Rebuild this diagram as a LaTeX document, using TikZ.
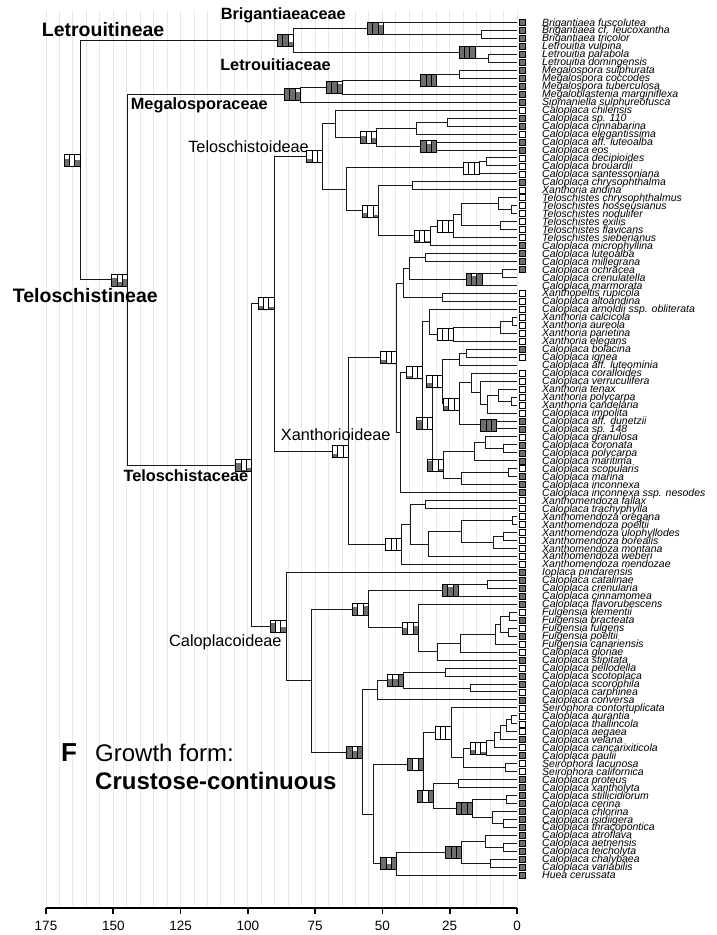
\documentclass[tikz,border=0pt]{standalone}
\usepackage{fontspec}
\setmainfont{Liberation Sans}
\usetikzlibrary{calc}
\definecolor{boxgray}{RGB}{110,110,110}
\definecolor{gridgray}{RGB}{232,232,232}
\tikzset{
  branch/.style={line width=1pt, black!90},
  boxline/.style={line width=0.8pt, black},
  gridline/.style={line width=1pt, gridgray},
  tipsq/.style={line width=0.7pt, black},
  tiplabel/.style={anchor=base west, inner sep=0pt, font=\fontsize{10.5}{10}\selectfont\itshape},
  bigclade/.style={inner sep=0pt, font=\fontsize{19.5}{20}\selectfont\bfseries},
  famclade/.style={inner sep=0pt, font=\fontsize{16.3}{17}\selectfont\bfseries},
  subclade/.style={inner sep=0pt, font=\fontsize{16.3}{17}\selectfont},
  axisline/.style={line width=1.8pt, black},
  axislab/.style={inner sep=0pt, font=\fontsize{13.5}{14}\selectfont},
}
\newcommand\nbx[4]{%
  \fill[white] ($(#1)+(-16,-6)$) rectangle ($(#1)+(0,6)$);
  \fill[boxgray] ($(#1)+(-16,{6-12*#2})$) rectangle ($(#1)+(-10.667,6)$);
  \fill[boxgray] ($(#1)+(-10.667,{6-12*#3})$) rectangle ($(#1)+(-5.333,6)$);
  \fill[boxgray] ($(#1)+(-5.333,{6-12*#4})$) rectangle ($(#1)+(0,6)$);
  \draw[boxline] ($(#1)+(-16,-6)$) rectangle ($(#1)+(0,6)$);
  \draw[boxline] ($(#1)+(-10.667,-6)$) -- ($(#1)+(-10.667,6)$);
  \draw[boxline] ($(#1)+(-5.333,-6)$) -- ($(#1)+(-5.333,6)$);
}
\begin{document}
\begin{tikzpicture}[x=1pt,y=-1pt]
\useasboundingbox (0,0) rectangle (716,935);
% grid
\foreach \k in {0,...,35} {\draw[gridline] ({517-13.457*\k},10) -- ({517-13.457*\k},906);}
% tips
\foreach \i/\s/\n in {
1/f/Brigantiaea fuscolutea,
2/f/Brigantiaea cf. leucoxantha,
3/f/Brigantiaea tricolor,
4/f/Letrouitia vulpina,
5/f/Letrouitia parabola,
6/f/Letrouitia domingensis,
7/f/Megalospora sulphurata,
8/f/Megalospora coccodes,
9/f/Megalospora tuberculosa,
10/f/Megaloblastenia marginiflexa,
11/f/Sipmaniella sulphureofusca,
12/o/Caloplaca chilensis,
13/f/Caloplaca sp. 110,
14/f/Caloplaca cinnabarina,
15/o/Caloplaca elegantissima,
16/f/Caloplaca aff. luteoalba,
17/f/Caloplaca eos,
18/o/Caloplaca decipioides,
19/o/Caloplaca brouardii,
20/o/Caloplaca santessoniana,
21/f/Caloplaca chrysophthalma,
22/o/Xanthoria andina,
23/o/Teloschistes chrysophthalmus,
24/o/Teloschistes hosseusianus,
25/o/Teloschistes nodulifer,
26/o/Teloschistes exilis,
27/o/Teloschistes flavicans,
28/o/Teloschistes sieberianus,
29/f/Caloplaca microphyllina,
30/f/Caloplaca luteoalba,
31/f/Caloplaca millegrana,
32/f/Caloplaca ochracea,
33/n/Caloplaca crenulatella,
34/n/Caloplaca marmorata,
35/o/Xanthopeltis rupicola,
36/o/Caloplaca altoandina,
37/o/Caloplaca arnoldii ssp. obliterata,
38/o/Xanthoria calcicola,
39/o/Xanthoria aureola,
40/o/Xanthoria parietina,
41/o/Xanthoria elegans,
42/f/Caloplaca bolacina,
43/o/Caloplaca ignea,
44/n/Caloplaca aff. luteominia,
45/o/Caloplaca coralloides,
46/o/Caloplaca verruculifera,
47/o/Xanthoria tenax,
48/o/Xanthoria polycarpa,
49/o/Xanthoria candelaria,
50/o/Caloplaca impolita,
51/f/Caloplaca aff. dunetzii,
52/f/Caloplaca sp. 148,
53/o/Caloplaca granulosa,
54/f/Caloplaca coronata,
55/f/Caloplaca polycarpa,
56/f/Caloplaca maritima,
57/o/Caloplaca scopularis,
58/f/Caloplaca marina,
59/f/Caloplaca inconnexa,
60/f/Caloplaca inconnexa ssp. nesodes,
61/o/Xanthomendoza fallax,
62/o/Caloplaca trachyphylla,
63/o/Xanthomendoza oregana,
64/o/Xanthomendoza poeltii,
65/o/Xanthomendoza ulophyllodes,
66/o/Xanthomendoza borealis,
67/o/Xanthomendoza montana,
68/o/Xanthomendoza weberi,
69/o/Xanthomendoza mendozae,
70/f/Ioplaca pindarensis,
71/f/Caloplaca catalinae,
72/f/Caloplaca crenularia,
73/f/Caloplaca cinnamomea,
74/f/Caloplaca flavorubescens,
75/o/Fulgensia klementii,
76/f/Fulgensia bracteata,
77/o/Fulgensia fulgens,
78/f/Fulgensia poeltii,
79/o/Fulgensia canariensis,
80/o/Caloplaca gloriae,
81/f/Caloplaca stipitata,
82/o/Caloplaca pellodella,
83/f/Caloplaca scotoplaca,
84/f/Caloplaca scorophila,
85/o/Caloplaca carphinea,
86/f/Caloplaca conversa,
87/o/Seirophora contortuplicata,
88/o/Caloplaca aurantia,
89/o/Caloplaca thallincola,
90/o/Caloplaca aegaea,
91/f/Caloplaca velana,
92/o/Caloplaca cancarixiticola,
93/f/Caloplaca paulii,
94/o/Seirophora lacunosa,
95/o/Seirophora californica,
96/f/Caloplaca proteus,
97/f/Caloplaca xantholyta,
98/f/Caloplaca stillicidiorum,
99/f/Caloplaca cerina,
100/f/Caloplaca chlorina,
101/f/Caloplaca isidiigera,
102/f/Caloplaca thracopontica,
103/f/Caloplaca atroflava,
104/f/Caloplaca aetnensis,
105/f/Caloplaca teicholyta,
106/f/Caloplaca chalybaea,
107/f/Caloplaca variabilis,
108/f/Huea cerussata}{
  \coordinate (t\i) at (517,{22.5+7.97*(\i-1)});
  \node[tiplabel] (lab\i) at ($(t\i)+(25,3.5)$) {\n};
  \if\s f \draw[tipsq,fill=boxgray] ($(t\i)+(2,-3)$) rectangle ($(t\i)+(8,3)$);\fi
  \if\s o \draw[tipsq,fill=white] ($(t\i)+(2,-3)$) rectangle ($(t\i)+(8,3)$);\fi
}
% internal nodes
\coordinate (root) at (80,160.2);
\coordinate (letN) at (293.3,40.43);
\coordinate (brig) at (383.3,28.48);
\coordinate (brB23) at (481.7,34.46);
\coordinate (letr) at (475,52.39);
\coordinate (le56) at (488.3,58.37);
\coordinate (telN) at (127.7,279.96);
\coordinate (megN) at (300.5,94.73);
\coordinate (me10) at (342.5,87.26);
\coordinate (me789) at (436.7,80.28);
\coordinate (me78) at (459.3,74.31);
\coordinate (telfam) at (251.7,465.19);
\coordinate (tx) at (274,303.84);
\coordinate (telo) at (322.7,156.53);
\coordinate (cA) at (335,123.62);
\coordinate (cB) at (376.7,137.07);
\coordinate (cC) at (416,128.1);
\coordinate (c1314) at (447.3,122.13);
\coordinate (cD) at (436.7,146.04);
\coordinate (cH) at (346,189.44);
\coordinate (cG) at (479.3,167.95);
\coordinate (g1819) at (486.7,161.98);
\coordinate (cI) at (378.3,210.92);
\coordinate (i2122) at (412.7,185.89);
\coordinate (cJ) at (430,235.95);
\coordinate (cK) at (453.3,226.24);
\coordinate (cL) at (461.7,214.78);
\coordinate (cM) at (498.3,203.82);
\coordinate (m2425) at (511.7,209.8);
\coordinate (l2627) at (500,225.74);
\coordinate (xanth) at (348.3,451.15);
\coordinate (xQ) at (396.7,357.87);
\coordinate (xP) at (403.3,283.03);
\coordinate (xO) at (409.3,268.58);
\coordinate (x3031) at (425,257.62);
\coordinate (xN) at (482,279.54);
\coordinate (x3233) at (502.7,273.56);
\coordinate (x3536) at (442.3,297.47);
\coordinate (xV) at (400.7,432.7);
\coordinate (xU) at (422.7,372.68);
\coordinate (xS) at (429.3,321.88);
\coordinate (xR) at (453.3,334.33);
\coordinate (x3840) at (500,327.36);
\coordinate (x3839) at (512.7,321.38);
\coordinate (xW) at (432.7,423.47);
\coordinate (xX1) at (442.7,381.6);
\coordinate (x44) at (459.3,359.24);
\coordinate (x4243) at (466.7,353.26);
\coordinate (xX2) at (459.3,403.95);
\coordinate (x45) at (471.7,382.9);
\coordinate (x46) at (480,392.61);
\coordinate (x50) at (487.3,404.07);
\coordinate (x47) at (498.3,395.1);
\coordinate (x4849) at (511.7,401.08);
\coordinate (x5152) at (496.7,424.99);
\coordinate (xX4) at (443.3,465.34);
\coordinate (xY1) at (474,451.89);
\coordinate (x53) at (485,442.92);
\coordinate (x5455) at (503.3,448.9);
\coordinate (xY2) at (461.7,478.79);
\coordinate (x5758) at (508.3,472.81);
\coordinate (xAA) at (401.7,544.42);
\coordinate (x6168) at (410.7,524.37);
\coordinate (x6162) at (425,504.69);
\coordinate (x68) at (428.3,544.04);
\coordinate (x6367) at (461.7,531.59);
\coordinate (x6364) at (512.7,520.63);
\coordinate (x67) at (493.3,542.55);
\coordinate (x6566) at (503.3,536.57);
\coordinate (calo) at (286,626.53);
\coordinate (kBB) at (311.7,680.63);
\coordinate (kCC) at (368.3,609.17);
\coordinate (kDD) at (458.3,590.37);
\coordinate (k7172) at (487.3,584.39);
\coordinate (kEE) at (418.3,627.97);
\coordinate (k81) at (437.3,651.63);
\coordinate (k80) at (460.7,643.17);
\coordinate (k79) at (495,634.2);
\coordinate (k7578) at (500,624.24);
\coordinate (k7576) at (509.3,616.27);
\coordinate (k7778) at (508.3,632.21);
\coordinate (kFF) at (362.7,752.08);
\coordinate (kHH) at (377.3,689.99);
\coordinate (kGG) at (403.3,680.03);
\coordinate (k8283) at (445.7,672.06);
\coordinate (k8485) at (470.7,688);
\coordinate (k373) at (373.3,814.17);
\coordinate (kII) at (423.3,764.5);
\coordinate (kJJ) at (451,732.89);
\coordinate (kLL) at (463,757.86);
\coordinate (kKK) at (486,748.02);
\coordinate (k92) at (494,740.3);
\coordinate (k91) at (500,732.83);
\coordinate (k90) at (506.7,725.86);
\coordinate (k8889) at (511.7,719.88);
\coordinate (k9495) at (505,767.7);
\coordinate (kMM) at (433.3,796.1);
\coordinate (k9697) at (458.3,783.64);
\coordinate (kNN) at (472.3,808.55);
\coordinate (k9899) at (506.7,799.58);
\coordinate (k100) at (492.3,817.51);
\coordinate (k101102) at (503.3,823.49);
\coordinate (kPP) at (396.7,863.84);
\coordinate (kOO) at (461.7,852.38);
\coordinate (k103) at (485,841.42);
\coordinate (k104105) at (503.3,847.4);
\coordinate (k106107) at (490,863.34);
% branches
\foreach \p/\c in {
root/letN, root/telN,
letN/brig, letN/letr,
brig/t1, brig/brB23, brB23/t2, brB23/t3,
letr/t4, letr/le56, le56/t5, le56/t6,
telN/megN, telN/telfam,
megN/me10, megN/t11, me10/me789, me10/t10, me789/me78, me789/t9, me78/t7, me78/t8,
telfam/tx, telfam/calo,
tx/telo, tx/xanth,
telo/cA, telo/cH,
cA/t12, cA/cB, cB/cC, cB/cD, cC/c1314, cC/t15, c1314/t13, c1314/t14, cD/t16, cD/t17,
cH/cG, cH/cI, cG/g1819, cG/t20, g1819/t18, g1819/t19,
cI/i2122, cI/cJ, i2122/t21, i2122/t22,
cJ/cK, cJ/t29, cK/cL, cK/t28, cL/cM, cL/l2627, cM/t23, cM/m2425, m2425/t24, m2425/t25, l2627/t26, l2627/t27,
xanth/xQ, xanth/xAA,
xQ/xP, xQ/xV,
xP/xO, xP/x3536, xO/x3031, xO/xN, x3031/t30, x3031/t31, xN/x3233, xN/t34, x3233/t32, x3233/t33, x3536/t35, x3536/t36,
xV/xU, xV/t60,
xU/xS, xU/xW,
xS/t37, xS/xR, xR/x3840, xR/t41, x3840/x3839, x3840/t40, x3839/t38, x3839/t39,
xW/xX1, xW/xX4,
xX1/x44, xX1/xX2, x44/x4243, x44/t44, x4243/t42, x4243/t43,
xX2/x45, xX2/x5152, x45/t45, x45/x46, x46/t46, x46/x50, x50/x47, x50/t50, x47/t47, x47/x4849, x4849/t48, x4849/t49, x5152/t51, x5152/t52,
xX4/xY1, xX4/xY2, xY1/x53, xY1/t56, x53/t53, x53/x5455, x5455/t54, x5455/t55, xY2/x5758, xY2/t59, x5758/t57, x5758/t58,
xAA/x6168, xAA/t69, x6168/x6162, x6168/x68, x6162/t61, x6162/t62, x68/x6367, x68/t68, x6367/x6364, x6367/x67, x6364/t63, x6364/t64, x67/x6566, x67/t67, x6566/t65, x6566/t66,
calo/t70, calo/kBB,
kBB/kCC, kBB/kFF,
kCC/kDD, kCC/kEE, kDD/k7172, kDD/t73, k7172/t71, k7172/t72,
kEE/t74, kEE/k81, k81/k80, k81/t81, k80/k79, k80/t80, k79/k7578, k79/t79, k7578/k7576, k7578/k7778, k7576/t75, k7576/t76, k7778/t77, k7778/t78,
kFF/kHH, kFF/k373,
kHH/kGG, kHH/t86, kGG/k8283, kGG/k8485, k8283/t82, k8283/t83, k8485/t84, k8485/t85,
k373/kII, k373/kPP,
kII/kJJ, kII/kMM,
kJJ/t87, kJJ/kLL, kLL/kKK, kLL/k9495, kKK/k92, kKK/t93, k92/k91, k92/t92, k91/k90, k91/t91, k90/k8889, k90/t90, k8889/t88, k8889/t89, k9495/t94, k9495/t95,
kMM/k9697, kMM/kNN, k9697/t96, k9697/t97, kNN/k9899, kNN/k100, k9899/t98, k9899/t99, k100/t100, k100/k101102, k101102/t101, k101102/t102,
kPP/kOO, kPP/t108, kOO/k103, kOO/k106107, k103/t103, k103/k104105, k104105/t104, k104105/t105, k106107/t106, k106107/t107}
{\draw[branch] (\p) |- (\c);}
% state boxes
\nbx{root}{0.6}{0}{0.5}
\nbx{letN}{1}{1}{0.4}
\nbx{brig}{1}{1}{0.8}
\nbx{letr}{1}{1}{1}
\nbx{me789}{1}{1}{1}
\nbx{me10}{1}{1}{0.8}
\nbx{megN}{1}{1}{0.7}
\nbx{telN}{0.7}{0.3}{0.6}
\nbx{telfam}{0.7}{0.1}{0.3}
\nbx{tx}{0.3}{0}{0.2}
\nbx{telo}{0.3}{0}{0}
\nbx{cB}{0.6}{0}{0.4}
\nbx{cD}{1}{0.7}{1}
\nbx{cG}{0}{0}{0}
\nbx{cI}{0.3}{0}{0.2}
\nbx{cJ}{0.2}{0}{0.1}
\nbx{cK}{0}{0}{0}
\nbx{xN}{1}{0.8}{1}
\nbx{xanth}{0.3}{0}{0}
\nbx{xQ}{0.3}{0}{0}
\nbx{xU}{0.2}{0}{0}
\nbx{xR}{0}{0}{0}
\nbx{xX1}{0.4}{0}{0}
\nbx{xX2}{0.3}{0}{0}
\nbx{x5152}{1}{0.9}{1}
\nbx{xW}{0.8}{0}{0}
\nbx{xX4}{0.9}{0}{0.2}
\nbx{xAA}{0}{0}{0}
\nbx{calo}{0.8}{0}{0.5}
\nbx{kCC}{0.7}{0}{0.8}
\nbx{kDD}{1}{0.8}{1}
\nbx{kEE}{0.5}{0}{0.7}
\nbx{kFF}{1}{0.6}{1}
\nbx{kGG}{0.6}{0.6}{0.9}
\nbx{kII}{1}{0}{1}
\nbx{kJJ}{0}{0}{0}
\nbx{kKK}{0.3}{0}{0.2}
\nbx{kMM}{1}{0}{1}
\nbx{kNN}{1}{1}{1}
\nbx{kOO}{1}{1}{1}
\nbx{kPP}{1}{0.5}{1}
% clade labels
\node[bigclade, anchor=west] (lLetrouitineae) at (41.7,29.6) {Letrouitineae};
\node[bigclade, anchor=west] (lTeloschistineae) at (12.7,295.7) {Teloschistineae};
\node[famclade, anchor=east] (lBrig) at (346,15.5) {Brigantiaeaceae};
\node[famclade, anchor=east] (lLetr) at (331,65) {Letrouitiaceae};
\node[famclade, anchor=west] (lMeg) at (130.7,105.7) {Megalosporaceae};
\node[subclade, anchor=east] (lTelo) at (309,147) {Teloschistoideae};
\node[subclade, anchor=west] (lXan) at (280.7,435) {Xanthorioideae};
\node[famclade, anchor=west] (lTelf) at (123.3,476) {Teloschistaceae};
\node[subclade, anchor=west] (lCalo) at (169,642.7) {Caloplacoideae};
\node[inner sep=0pt, font=\fontsize{26}{28}\selectfont\bfseries] (lF) at (69,753) {F};
\node[inner sep=0pt, anchor=west, font=\fontsize{24}{26}\selectfont] (lGrowth) at (95,753) {Growth form:};
\node[inner sep=0pt, anchor=west, font=\fontsize{24}{26}\selectfont\bfseries] (lCrust) at (95,781) {Crustose-continuous};
% axis
\draw[axisline] (46,908) -- (517,908);
\foreach \t in {0,25,...,175} {
  \draw[axisline] ({517-2.6914*\t},908) -- ++(0,6);
  \node[axislab] (ax\t) at ({517-2.6914*\t},926) {\t};
}
\end{tikzpicture}
\end{document}
